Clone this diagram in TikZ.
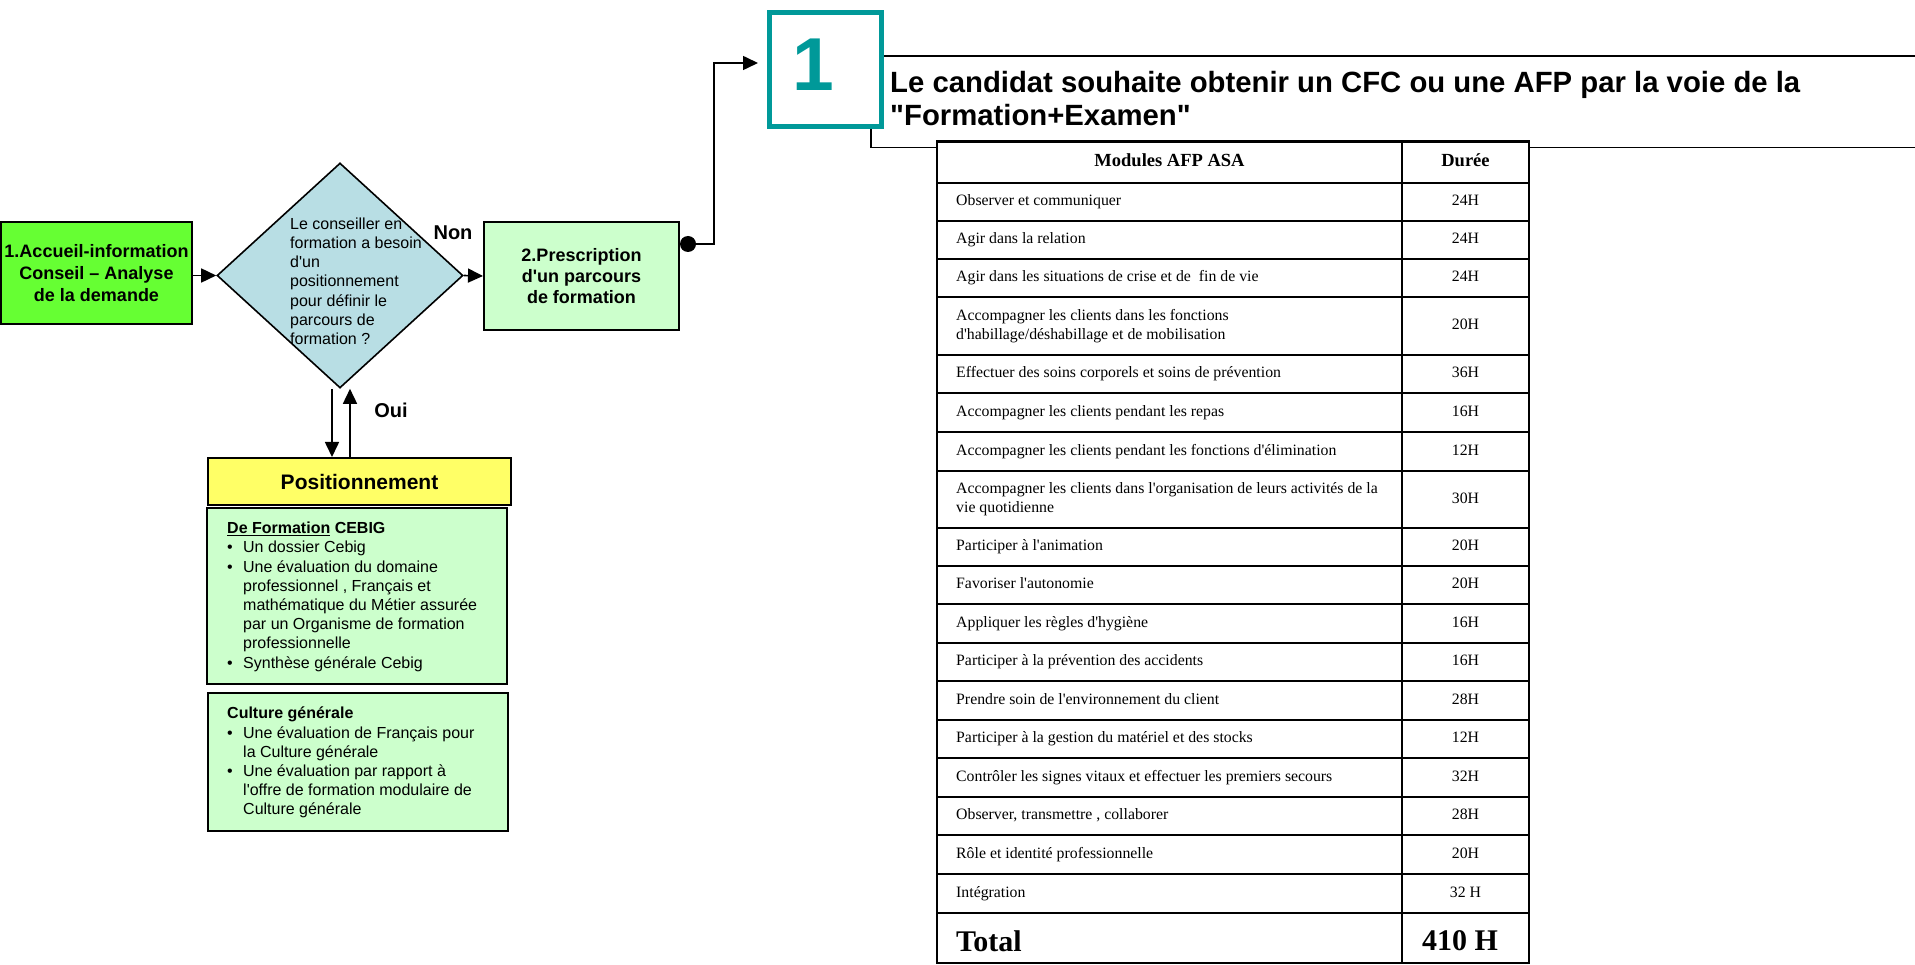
\documentclass[tikz,border=0pt]{standalone}
\usepackage{fontspec}
\setmainfont{Liberation Serif}[Ligatures=TeXOff]
\newfontfamily\arial{Liberation Sans}
\usetikzlibrary{shapes.geometric,arrows.meta}
\definecolor{brightgreen}{HTML}{66FF33}
\definecolor{lightgreen}{HTML}{CCFFCC}
\definecolor{diablue}{HTML}{B8DEE4}
\definecolor{posyellow}{HTML}{FFFF66}
\definecolor{tealc}{HTML}{009999}
\newcommand{\bul}{\makebox[16pt][l]{•}}
\newcommand{\ind}{\hspace*{16pt}}
\begin{document}
\begin{tikzpicture}[x=1pt,y=-1pt,
  box/.style={draw, line width=2pt, inner sep=0pt, align=center},
  conn/.style={line width=1.6pt},
  arr/.style={line width=1.6pt, -{Triangle[length=15pt,width=14pt]}},
  sanstxt/.style={font=\arial\fontsize{16}{19.2}\selectfont, inner sep=0pt, align=left, anchor=north west},
  cell/.style={font=\fontsize{15.8}{19}\selectfont, inner sep=0pt, align=left, anchor=west},
  dur/.style={font=\fontsize{15.8}{19}\selectfont, inner sep=0pt},
  tab/.style={line width=2.2pt},
  lbl/.style={font=\arial\bfseries\fontsize{20}{24}\selectfont, inner sep=0pt},
]
\useasboundingbox (0,0) rectangle (1915,965);
\fill[white] (0,0) rectangle (1915,965);

% ---- left flow ----
\node[box, fill=brightgreen, minimum width=191pt, minimum height=102pt,
      font=\arial\bfseries\fontsize{18}{22}\selectfont] (box1) at (96.5,273)
      {1.Accueil-information\\Conseil – Analyse\\de la demande};

\node[diamond, draw, fill=diablue, line width=1.6pt, minimum width=246pt,
      minimum height=225pt, inner sep=0pt] (dia) at (340,275.5) {};
\node[sanstxt] (diatxt) at (290,217.5)
      {Le conseiller en\\formation a besoin\\d'un\\positionnement\\pour définir le\\parcours de\\formation ?};

\node[box, fill=lightgreen, minimum width=195pt, minimum height=108pt,
      font=\arial\bfseries\fontsize{18}{21}\selectfont] (box2) at (581.5,276)
      {2.Prescription\\d'un parcours\\de formation};

\node[lbl] (non) at (453,233) {Non};
\node[lbl] (oui) at (391,410) {Oui};

\draw[arr] (box1.east |- dia.west) -- (dia.west);
\draw[arr] (dia.east) -- (box2.west);

\node[box, fill=posyellow, minimum width=303pt, minimum height=47pt,
      font=\arial\bfseries\fontsize{21}{24}\selectfont] (posn) at (359.5,481.5) {Positionnement};

\draw[arr] ([xshift=-8pt]dia.south) -- ([xshift=-8pt]dia.south |- posn.north);
\draw[arr] ([xshift=10pt]dia.south |- posn.north) -- ([xshift=10pt]dia.south);

\node[box, fill=lightgreen, minimum width=300pt, minimum height=176pt] (cebig) at (357,596) {};
\node[sanstxt] (cebigtxt) at (227,522)
      {\textbf{\underline{De Formation} CEBIG}\\
       \bul Un dossier Cebig\\
       \bul Une évaluation du domaine\\
       \ind professionnel , Français et\\
       \ind mathématique du Métier assurée\\
       \ind par un Organisme de formation\\
       \ind professionnelle\\
       \bul Synthèse générale Cebig};

\node[box, fill=lightgreen, minimum width=300pt, minimum height=138pt] (cult) at (358,762) {};
\node[sanstxt] (culttxt) at (227,707)
      {\textbf{Culture générale}\\
       \bul Une évaluation de Français pour\\
       \ind la Culture générale\\
       \bul Une évaluation par rapport à\\
       \ind l'offre de formation modulaire de\\
       \ind Culture générale};

% ---- connector to block 1 ----
\node[circle, fill=black, inner sep=0pt, minimum size=16pt] (dot) at (688,244) {};
\node[draw=tealc, line width=5pt, fill=white, minimum width=112pt, minimum height=114pt,
      inner sep=0pt] (num) at (825.5,69.5) {};
\node[text=tealc, font=\arial\bfseries\fontsize{75}{75}\selectfont, inner sep=0pt] (numtxt) at (813.5,65) {1};
\draw[arr, shorten >=9pt] (dot.center) -- ++(26,0) |- ([yshift=6.5pt]num.west);

% ---- header lines ----
\draw[line width=1.8pt] ([yshift=13.5pt]num.east) -- (1915,56);
\draw[line width=1.8pt] ([xshift=45.5pt]num.south) -- ++(0,18.5) -- (1915,147.5);

\node[anchor=base west, inner sep=0pt, font=\arial\bfseries\fontsize{29.3}{32}\selectfont] (title1) at (890,93)
      {Le candidat souhaite obtenir un CFC ou une AFP par la voie de la};
\node[anchor=base west, inner sep=0pt, font=\arial\bfseries\fontsize{29.3}{32}\selectfont] (title2) at (890,126)
      {"Formation+Examen"};

% ---- table ----
\draw[tab, fill=white] (937,141.5) rectangle (1529,963);
\foreach \y in {183,221,259,297,355,393,432,471,528,566,604,643,681,720,758,797,835,874,913}
  \draw[tab] (937,\y) -- (1529,\y);
\draw[tab] (1402,141.5) -- (1402,963);

\node[font=\bfseries\fontsize{18.5}{22}\selectfont, inner sep=0pt] (hmod) at (1169.5,162.5) {\strut Modules AFP ASA};
\node[font=\bfseries\fontsize{18.5}{22}\selectfont, inner sep=0pt] (hdur) at (1465.5,162.5) {\strut Durée};

\foreach \i/\a/\b/\t/\d in {
  1/183/221/{Observer et communiquer}/24H,
  2/221/259/{Agir dans la relation}/24H,
  3/259/297/{Agir dans les situations de crise et de \ fin de vie}/24H,
  4/297/355/{Accompagner les clients dans les fonctions\\d'habillage/déshabillage et de mobilisation}/20H,
  5/355/393/{Effectuer des soins corporels et soins de prévention}/36H,
  6/393/432/{Accompagner les clients pendant les repas}/16H,
  7/432/471/{Accompagner les clients pendant les fonctions d'élimination}/12H,
  8/471/528/{Accompagner les clients dans l'organisation de leurs activités de la\\vie quotidienne}/30H,
  9/528/566/{Participer à l'animation}/20H,
  10/566/604/{Favoriser l'autonomie}/20H,
  11/604/643/{Appliquer les règles d'hygiène}/16H,
  12/643/681/{Participer à la prévention des accidents}/16H,
  13/681/720/{Prendre soin de l'environnement du client}/28H,
  14/720/758/{Participer à la gestion du matériel et des stocks}/12H,
  15/758/797/{Contrôler les signes vitaux et effectuer les premiers secours}/32H,
  16/797/835/{Observer, transmettre , collaborer}/28H,
  17/835/874/{Rôle et identité professionnelle}/20H,
  18/874/913/{Intégration}/{32 H}}
{
  \node[cell] (m\i) at (956,{(\a+\b)/2}) {\strut\t\strut};
  \node[dur] (d\i) at (1465.5,{(\a+\b)/2}) {\strut\d};
}

\node[anchor=west, inner sep=0pt, font=\bfseries\fontsize{30}{32}\selectfont] (tot) at (956,941) {Total};
\node[inner sep=0pt, font=\bfseries\fontsize{30}{32}\selectfont] (totv) at (1460,941) {410 H};
\end{tikzpicture}
\end{document}
